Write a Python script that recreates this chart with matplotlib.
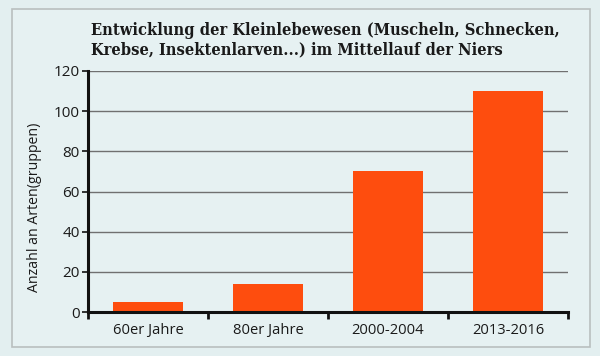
import matplotlib
matplotlib.use("Agg")
import matplotlib.pyplot as plt
from matplotlib.patches import Rectangle

categories = ["60er Jahre", "80er Jahre", "2000-2004", "2013-2016"]
values = [5, 14, 70, 110]
yticks = [0, 20, 40, 60, 80, 100, 120]
title = "Entwicklung der Kleinlebewesen (Muscheln, Schnecken,\nKrebse, Insektenlarven...) im Mittellauf der Niers"
ylabel = "Anzahl an Arten(gruppen)"

W, H = 600, 356
bg = "#e3eff0"
bar_color = "#fe4d0e"

fig = plt.figure(figsize=(W / 100, H / 100), dpi=100, facecolor=bg)
fig.patches.append(Rectangle((12 / W, 1 - 347 / H), (590 - 12) / W, (347 - 9) / H,
                             transform=fig.transFigure, facecolor="#e6f1f2",
                             edgecolor="#b9bfbf", linewidth=1.2, zorder=-5))

ax = fig.add_axes([88 / W, 1 - 312 / H, 480 / W, 241 / H])
ax.set_zorder(2)
ax.set_facecolor("none")
x = list(range(len(categories)))
ax.bar(x, values, width=0.585, color=bar_color, zorder=3)
ax.set_xlim(-0.5, len(categories) - 0.5)
ax.set_ylim(0, 120)
ax.set_yticks(yticks)
ax.set_yticklabels([str(v) for v in yticks], fontsize=11, family="Open Sans", color="#1a1a1a")
ax.set_xticks(x)
ax.set_xticklabels(categories, fontsize=10.6, family="Open Sans", color="#1a1a1a")
ax.tick_params(axis="x", length=0, pad=8)
ax.set_xticks([i - 0.5 for i in range(len(categories) + 1)], minor=True)
ax.tick_params(axis="x", which="minor", length=5, width=2, color="#111111", direction="out")
ax.tick_params(axis="y", length=4, width=1.2, color="#111111", pad=2)
ax.grid(axis="y", color="#707070", linewidth=1.0, zorder=1)
ax.set_axisbelow(True)
for s in ["top", "right"]:
    ax.spines[s].set_visible(False)
for s in ["left", "bottom"]:
    ax.spines[s].set_linewidth(2.2)
    ax.spines[s].set_color("#111111")
    ax.spines[s].set_zorder(4)

fig.text(91 / W, 1 - 22 / H, title, fontsize=11.8, fontweight="bold", family="DejaVu Serif",
         fontstretch="condensed", color="#1a1a1a", ha="left", va="top", linespacing=1.22)
fig.text(35 / W, 1 - 207 / H, ylabel, rotation=90, fontsize=10.2, family="Open Sans",
         color="#1a1a1a", ha="center", va="center")

fig.savefig("out.png", dpi=100, facecolor=bg)
